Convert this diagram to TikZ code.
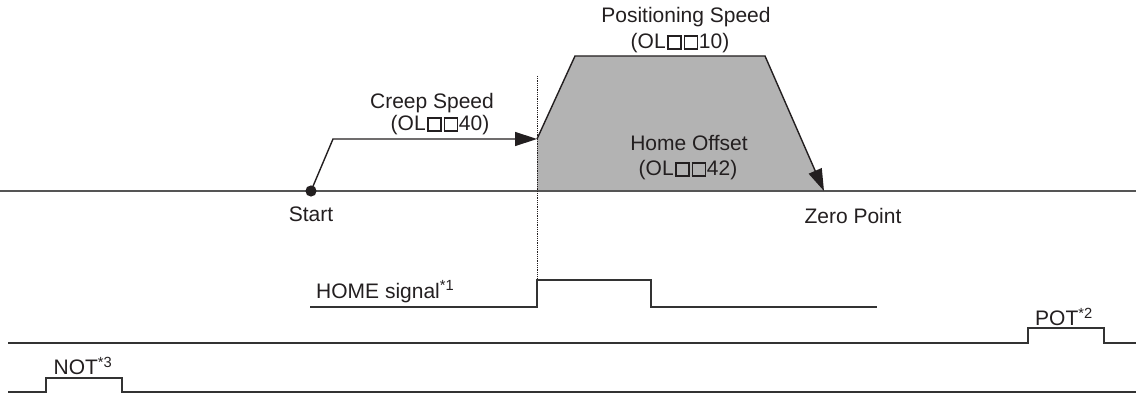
\documentclass[tikz,border=0pt]{standalone}
\usepackage{fontspec}
\setmainfont{Liberation Sans}
\usetikzlibrary{arrows.meta}
\definecolor{fillgray}{HTML}{B3B3B3}
\definecolor{axisgray}{HTML}{555555}
\definecolor{linegray}{HTML}{333333}
\definecolor{txt}{HTML}{231F20}
\newcommand\sqbox{\kern1.2pt{\setlength{\fboxsep}{0pt}\setlength{\fboxrule}{1.6pt}\fbox{\rule{0pt}{11.4pt}\hspace{11.6pt}}}\kern0.6pt}
\begin{document}
\begin{tikzpicture}[x=1pt,y=-1pt,
  lbl/.style={inner sep=0pt,font=\fontsize{21}{24}\selectfont,text=txt},
  axisline/.style={draw=axisgray,line width=1.8pt},
  sigline/.style={draw=linegray,line width=1.3pt},
  profile/.style={draw=txt,line width=1.4pt},
  tri/.style={-{Triangle[length=22pt,width=14pt]}}
]
\useasboundingbox (0,0) rectangle (1136,393);
% coordinates
\coordinate (axL) at (0,191);
\coordinate (axR) at (1136,191);
\coordinate (st) at (311,191);
\coordinate (c1) at (333,139);
\coordinate (c2) at (537,139);
\coordinate (p1) at (575,56);
\coordinate (p2) at (765,56);
\coordinate (zp) at (824,191);
\coordinate (b0) at (537,191);
\coordinate (dtop) at (537,76);
\coordinate (dbot) at (537,280);
% fill
\fill[fillgray] (b0) -- (c2) -- (p1) -- (p2) -- (zp) -- cycle;
% axis
\draw[axisline] (axL) -- (axR);
% creep profile
\draw[profile,tri] (st) -- (c1) -- (c2);
\draw[profile,tri] (c2) -- (p1) -- (p2) -- (zp);
\fill[txt] (st) circle (5.6pt);
% dotted marker
\draw[txt,line width=0.8pt,densely dotted] (dtop) -- (dbot);
% HOME signal
\coordinate (h0) at (310,307);
\coordinate (h1) at (537,307);
\coordinate (h2) at (537,280);
\coordinate (h3) at (651,280);
\coordinate (h4) at (651,307);
\coordinate (h5) at (877,307);
\draw[sigline] (h0) -- (h1) -- (h2) -- (h3) -- (h4) -- (h5);
% POT signal
\coordinate (q0) at (8,343);
\coordinate (q1) at (1028,343);
\coordinate (q2) at (1028,328);
\coordinate (q3) at (1104,328);
\coordinate (q4) at (1104,343);
\coordinate (q5) at (1136,343);
\draw[sigline] (q0) -- (q1) -- (q2) -- (q3) -- (q4) -- (q5);
% NOT signal
\coordinate (n0) at (8,392);
\coordinate (n1) at (46,392);
\coordinate (n2) at (46,378);
\coordinate (n3) at (122,378);
\coordinate (n4) at (122,392);
\coordinate (n5) at (1136,392);
\draw[sigline] (n0) -- (n1) -- (n2) -- (n3) -- (n4) -- (n5);
% labels
\node[lbl] (creep) at (432,103) {Creep Speed};
\node[lbl] (creepp) at (440,125) {(OL\sqbox\sqbox40)};
\node[lbl] (pos) at (686,17) {Positioning Speed};
\node[lbl] (posp) at (680,43) {(OL\sqbox\sqbox10)};
\node[lbl] (ho) at (689,143) {Home Offset};
\node[lbl] (hop) at (688,170) {(OL\sqbox\sqbox42)};
\node[lbl] (start) at (311,214) {Start};
\node[lbl] (zero) at (853,216) {Zero Point};
\node[lbl,anchor=base west] (home) at (316,298) {HOME signal\textsuperscript{*1}};
\node[lbl] (pot) at (1064,317) {POT\textsuperscript{*2}};
\node[lbl] (not) at (83,366) {NOT\textsuperscript{*3}};
\end{tikzpicture}
\end{document}
